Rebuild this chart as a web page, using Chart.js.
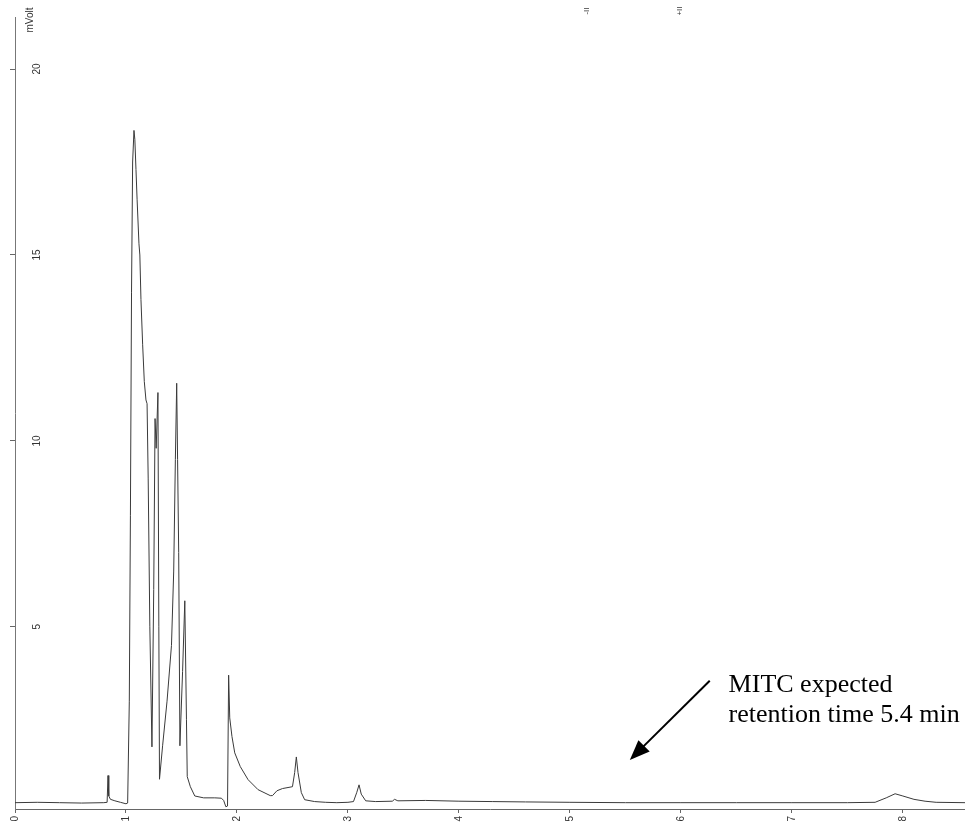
<!DOCTYPE html>
<html>
<head>
<meta charset="utf-8">
<script src="https://cdn.jsdelivr.net/npm/chart.js@4.4.0/dist/chart.umd.min.js"></script>
<style>
  body { margin: 0; background: #fff; }
  #chromChart { display: block; }
</style>
</head>
<body>
<canvas id="chromChart" width="965" height="829"></canvas>
<script>
// retention time (min) and detector signal (mVolt)
const retentionTime = [
  0.00, 0.20, 0.40, 0.60, 0.80, 0.830, 0.838, 0.845, 0.86, 0.90, 0.95, 1.00,
  1.015, 1.03, 1.04, 1.05, 1.06, 1.072, 1.08, 1.09, 1.10, 1.117, 1.125, 1.135,
  1.15, 1.165, 1.18, 1.19, 1.20, 1.215, 1.234, 1.25, 1.262, 1.272, 1.288, 1.296,
  1.302, 1.33, 1.37, 1.41, 1.43, 1.445, 1.457, 1.465, 1.475, 1.486,
  1.51, 1.53, 1.545, 1.552, 1.58, 1.62, 1.70, 1.80, 1.86, 1.88, 1.90, 1.915,
  1.925, 1.935, 1.955, 1.98, 2.03, 2.10, 2.19, 2.30, 2.32, 2.36, 2.41, 2.50,
  2.52, 2.535, 2.55, 2.58, 2.61, 2.70, 2.80, 2.90, 3.00, 3.05, 3.08, 3.10,
  3.12, 3.16, 3.25, 3.40, 3.42, 3.45, 3.70, 4.00, 4.30, 4.60, 5.00, 5.50,
  6.00, 6.50, 7.00, 7.50, 7.75, 7.85, 7.93, 8.00, 8.10, 8.20, 8.30, 8.56
];
const signal = [
  0.27, 0.28, 0.27, 0.26, 0.27, 0.28, 1.00, 0.45, 0.36, 0.32, 0.28, 0.24,
  0.26, 3.0, 8.0, 14.0, 17.5, 18.35, 18.1, 17.3, 16.5, 15.3, 15.0, 13.8,
  12.6, 11.6, 11.1, 11.0, 9.0, 5.0, 1.77, 6.0, 10.6, 9.8, 11.3, 5.0,
  0.9, 1.8, 3.0, 4.5, 6.5, 9.5, 11.55, 9.5, 7.0, 1.8,
  3.8, 5.7, 2.5, 0.97, 0.7, 0.45, 0.40, 0.40, 0.39, 0.33, 0.16, 0.18,
  3.7, 2.55, 2.05, 1.61, 1.24, 0.89, 0.62, 0.46, 0.46, 0.59, 0.65, 0.70,
  1.08, 1.5, 1.08, 0.54, 0.35, 0.30, 0.28, 0.27, 0.28, 0.30, 0.55, 0.75,
  0.5, 0.32, 0.30, 0.31, 0.36, 0.32, 0.33, 0.31, 0.30, 0.29, 0.28, 0.27,
  0.27, 0.27, 0.27, 0.27, 0.28, 0.40, 0.51, 0.45, 0.36, 0.31, 0.28, 0.27
];

const xTicks = [0, 1, 2, 3, 4, 5, 6, 7, 8];
const yTicks = [5, 10, 15, 20];
const yTitle = 'mVolt';

// integration event marks printed along the top
const eventTimes = [5.15, 5.99];
const eventLabels = ['-II', '+II'];

// hand-drawn note
const noteLines = ['MITC expected', 'retention time 5.4 min'];
const noteAt = { t: 6.43, v: [3.25, 2.45] };
const arrowFrom = { t: 6.26, v: 3.55 };
const arrowTo = { t: 5.54, v: 1.42 };

const points = retentionTime.map((t, i) => ({ x: t, y: signal[i] }));

const extras = {
  id: 'extras',
  afterDraw(chart) {
    const { ctx, chartArea, scales: { x, y } } = chart;
    ctx.save();

    // rotated y tick labels, inside the plot
    ctx.fillStyle = '#333';
    ctx.font = '10px Arial, "Liberation Sans"';
    ctx.textAlign = 'center';
    ctx.textBaseline = 'middle';
    yTicks.forEach(v => {
      ctx.save();
      ctx.translate(chartArea.left + 22, y.getPixelForValue(v));
      ctx.rotate(-Math.PI / 2);
      ctx.fillText(String(v), 0, 0);
      ctx.restore();
    });

    // axis unit
    ctx.save();
    ctx.font = '10px Arial, "Liberation Sans"';
    ctx.translate(chartArea.left + 15, chartArea.top + 3);
    ctx.rotate(-Math.PI / 2);
    ctx.fillText(yTitle, 0, 0);
    ctx.restore();

    // event marks
    ctx.font = '8px Arial, "Liberation Sans"';
    eventTimes.forEach((t, i) => {
      ctx.save();
      ctx.translate(x.getPixelForValue(t), 11);
      ctx.rotate(-Math.PI / 2);
      ctx.fillText(eventLabels[i], 0, 0);
      ctx.restore();
    });

    // arrow
    const x1 = x.getPixelForValue(arrowFrom.t), y1 = y.getPixelForValue(arrowFrom.v);
    const x2 = x.getPixelForValue(arrowTo.t), y2 = y.getPixelForValue(arrowTo.v);
    const ang = Math.atan2(y2 - y1, x2 - x1);
    const headLen = 20, headW = 8;
    ctx.strokeStyle = '#000';
    ctx.fillStyle = '#000';
    ctx.lineWidth = 2;
    ctx.beginPath();
    ctx.moveTo(x1, y1);
    ctx.lineTo(x2 - Math.cos(ang) * headLen * 0.8, y2 - Math.sin(ang) * headLen * 0.8);
    ctx.stroke();
    ctx.beginPath();
    ctx.moveTo(x2, y2);
    ctx.lineTo(x2 - Math.cos(ang) * headLen + Math.sin(ang) * headW,
               y2 - Math.sin(ang) * headLen - Math.cos(ang) * headW);
    ctx.lineTo(x2 - Math.cos(ang) * headLen - Math.sin(ang) * headW,
               y2 - Math.sin(ang) * headLen + Math.cos(ang) * headW);
    ctx.closePath();
    ctx.fill();

    // note text
    ctx.font = '26px "Liberation Serif", "Times New Roman", serif';
    ctx.textAlign = 'left';
    ctx.textBaseline = 'alphabetic';
    noteLines.forEach((line, i) => {
      ctx.fillText(line, x.getPixelForValue(noteAt.t), y.getPixelForValue(noteAt.v[i]));
    });

    ctx.restore();
  }
};

new Chart(document.getElementById('chromChart').getContext('2d'), {
  type: 'scatter',
  data: {
    datasets: [{
      data: points,
      showLine: true,
      borderColor: '#3a3a3a',
      borderWidth: 1,
      pointRadius: 0,
      tension: 0,
      clip: false
    }]
  },
  options: {
    responsive: false,
    animation: false,
    layout: { padding: { top: 17, right: 0, left: 0, bottom: 0 } },
    plugins: {
      legend: { display: false },
      tooltip: { enabled: false }
    },
    scales: {
      x: {
        type: 'linear',
        min: 0,
        max: 8.56,
        afterBuildTicks: (scale) => { scale.ticks = xTicks.map(v => ({ value: v })); },
        afterFit: (scale) => { scale.height = 20; },
        border: { display: true, color: '#666', width: 1 },
        grid: { drawOnChartArea: false, drawTicks: true, tickLength: 4, color: '#666' },
        ticks: {
          autoSkip: false,
          minRotation: 90,
          maxRotation: 90,
          padding: 3,
          color: '#333',
          font: { family: 'Arial, "Liberation Sans"', size: 10 },
          callback: (v) => String(v)
        }
      },
      y: {
        type: 'linear',
        min: 0.1,
        max: 21.4,
        afterBuildTicks: (scale) => { scale.ticks = yTicks.map(v => ({ value: v })); },
        afterFit: (scale) => { scale.width = 15; },
        border: { display: true, color: '#777', width: 1 },
        grid: { drawOnChartArea: false, drawTicks: true, tickLength: 5, color: '#666' },
        ticks: { display: false }
      }
    }
  },
  plugins: [extras]
});
</script>
</body>
</html>
